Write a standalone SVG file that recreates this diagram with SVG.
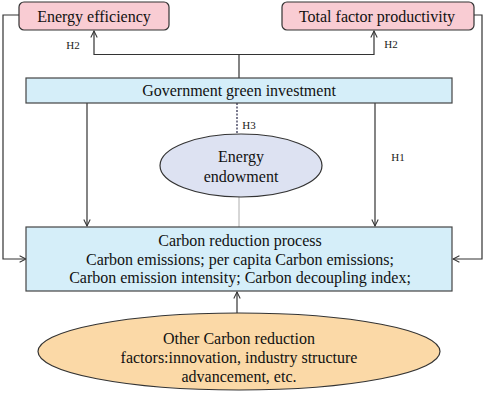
<svg xmlns="http://www.w3.org/2000/svg" width="484" height="393" viewBox="0 0 484 393">
<defs>
<style>
.t{font-family:"Liberation Serif","Times New Roman",serif;fill:#111;text-anchor:middle;font-size:16px}
.lbl{font-family:"Liberation Serif","Times New Roman",serif;fill:#222;font-size:11px;text-anchor:middle}
.ln{stroke:#333;stroke-width:1.2;fill:none}
.pink{fill:#f9ccd3;stroke:#333;stroke-width:1.2}
.blue{fill:#d5eef9;stroke:#444;stroke-width:1.2}
</style>
<marker id="ah" viewBox="0 0 10 10" refX="9" refY="5" markerWidth="8" markerHeight="8" orient="auto" markerUnits="userSpaceOnUse">
<path d="M1,1 L9,5 L1,9" fill="none" stroke="#333" stroke-width="1.3"/>
</marker>
</defs>
<rect width="484" height="393" fill="#fff"/>
<g id="connectors">
<path class="ln" d="M19,15 H3 V259 H26" marker-end="url(#ah)"/>
<path class="ln" d="M474,15 H482 V259 H453" marker-end="url(#ah)"/>
<path class="ln" d="M239,78 V54.5 H94 V31" marker-end="url(#ah)"/>
<path class="ln" d="M239,54.5 H374 V31" marker-end="url(#ah)"/>
<path class="ln" d="M87,103 V226" marker-end="url(#ah)"/>
<path class="ln" d="M375,103 V226" marker-end="url(#ah)"/>
<path d="M237,103 V134" stroke="#224" stroke-width="1.2" stroke-dasharray="2,1.5" fill="none"/>
<path d="M239,197 V227" stroke="#999" stroke-width="0.8" fill="none"/>
<path class="ln" d="M237,313 V292" marker-end="url(#ah)"/>
<text class="lbl" x="73" y="49">H2</text>
<text class="lbl" x="391" y="48">H2</text>
<text class="lbl" x="249" y="129">H3</text>
<text class="lbl" x="398" y="161">H1</text>
</g>
<g id="energy-efficiency">
<rect class="pink" x="19" y="2" width="150" height="28" rx="5"/>
<text class="t" x="94" y="22">Energy efficiency</text>
</g>
<g id="tfp">
<rect class="pink" x="282" y="2" width="192" height="28" rx="5"/>
<text class="t" x="377" y="22">Total factor productivity</text>
</g>
<g id="government">
<rect class="blue" x="26" y="78" width="426" height="25"/>
<text class="t" x="239" y="96">Government green investment</text>
</g>
<g id="endowment">
<ellipse cx="241" cy="165.5" rx="81" ry="31.5" fill="#dde2f2" stroke="#333" stroke-width="1.2"/>
<text class="t" x="241" y="162">Energy</text>
<text class="t" x="241" y="182">endowment</text>
</g>
<g id="carbon">
<rect class="blue" x="26" y="227" width="426" height="64"/>
<text class="t" x="240" y="246">Carbon reduction process</text>
<text class="t" x="240" y="265">Carbon emissions; per capita Carbon emissions;</text>
<text class="t" x="240" y="283">Carbon emission intensity; Carbon decoupling index;</text>
</g>
<g id="other">
<ellipse cx="239" cy="351.5" rx="201" ry="38.5" fill="#fbd9a7" stroke="#333" stroke-width="1.2"/>
<text class="t" x="239" y="344">Other Carbon reduction</text>
<text class="t" x="239" y="363">factors:innovation, industry structure</text>
<text class="t" x="239" y="382">advancement, etc.</text>
</g>
</svg>
